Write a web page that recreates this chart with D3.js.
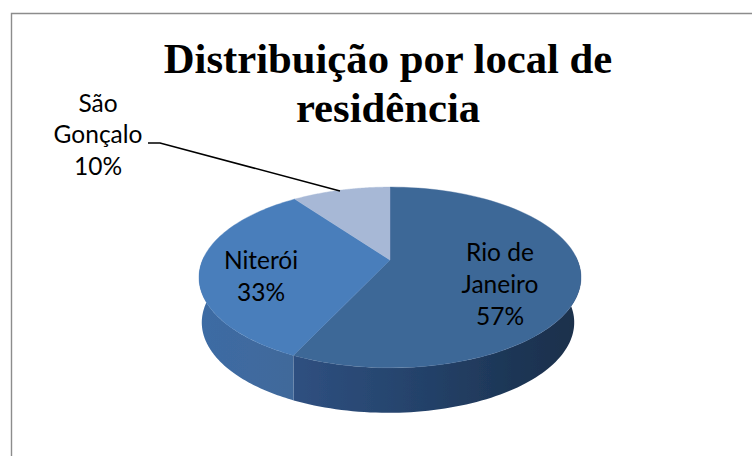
<!DOCTYPE html>
<html><head><meta charset="utf-8">
<style>html,body{margin:0;padding:0;background:#fff}svg{display:block}</style>
<script src="https://cdn.jsdelivr.net/npm/d3@7"></script></head>
<body><svg id="c" width="752" height="456"></svg>
<script>
const categories = ["Rio de Janeiro","Niterói","São Gonçalo"];
const values = [57,33,10];
const labelLines = [["Rio de","Janeiro","57%"],["Niterói","33%"],["São","Gonçalo","10%"]];
const titleLines = ["Distribuição por local de","residência"];
const topColors = ["#3e6797","#4a7ebb","#a7b8d6"];

const svg = d3.select("#c");
svg.append("path").attr("d","M752,13.5H11.5V456").attr("fill","none")
  .attr("stroke","#8c8c8c").attr("stroke-width",1.4);

const cx=390, cy=260, rx=187.4, a=87, b=0.193, depth=45;
const proj=(t,dz=0,s=1,dx=0)=>{const x=Math.sin(t),y=-Math.cos(t),d=1-b*y;
  return [cx+dx+s*rx*x/d, cy+a*y/d+dz];};
const samples=(t0,t1,n=80)=>d3.range(n+1).map(i=>t0+(t1-t0)*i/n);
const line=d3.line();
const arcs=d3.pie().sort(null)(values);

const defs=svg.append("defs");
const wallGrad=(id,stops)=>{const g=defs.append("linearGradient").attr("id",id)
  .attr("gradientUnits","userSpaceOnUse").attr("x1",stops[0][0]).attr("x2",stops[stops.length-1][0]).attr("y1",0).attr("y2",0);
  const w=stops[stops.length-1][0]-stops[0][0];
  stops.forEach(s=>g.append("stop").attr("offset",(s[0]-stops[0][0])/w).attr("stop-color",s[1]));};
wallGrad("w0",[[295,"#2f5080"],[420,"#24426a"],[520,"#1d3554"],[581,"#1b2f4b"]]);
wallGrad("w1",[[198,"#3d6ca4"],[250,"#3f6a9f"],[295,"#41699a"]]);
const blur=defs.append("filter").attr("id","soft").attr("x","-5%").attr("y","-5%").attr("width","110%").attr("height","110%");
blur.append("feGaussianBlur").attr("stdDeviation",0.5);

const g=svg.append("g").attr("filter","url(#soft)");
const front=[[arcs[0].startAngle+Math.PI/2-0.05,arcs[0].endAngle],[arcs[1].startAngle,Math.PI*1.5+0.05]];
front.forEach((f,i)=>{
  const ts=samples(f[0],f[1]);
  const pts=ts.map(t=>proj(t)).concat(ts.slice().reverse().map(t=>proj(t,depth,0.975,-2)));
  g.append("path").attr("d",line(pts)+"Z").attr("fill",`url(#w${i})`);
});
arcs.forEach((d,i)=>{
  const pts=[[cx,cy]].concat(samples(d.startAngle,d.endAngle).map(t=>proj(t)));
  g.append("path").attr("d",line(pts)+"Z").attr("fill",topColors[i]).attr("stroke",topColors[i]).attr("stroke-width",0.4);
});

svg.append("path").attr("d",line([[148,143],[160,143],[340,191]])).attr("fill","none")
  .attr("stroke","#000").attr("stroke-width",1.5);

const title=svg.append("text").attr("text-anchor","middle").attr("font-family","'Liberation Serif'")
  .attr("font-weight","bold").attr("font-size",42.7).attr("fill","#000");
titleLines.forEach((t,i)=>title.append("tspan").attr("x",388).attr("y",[73,122][i]).text(t));

const labelPos=[[500,[261,293,325]],[261,[269,301]],[98,[112,143,175]]];
labelLines.forEach((ls,i)=>{
  const tx=svg.append("text").attr("text-anchor","middle").attr("font-family","Lato")
    .attr("font-size",24.5).attr("fill","#000");
  ls.forEach((s,j)=>tx.append("tspan").attr("x",labelPos[i][0]).attr("y",labelPos[i][1][j]).text(s));
});
</script></body></html>
